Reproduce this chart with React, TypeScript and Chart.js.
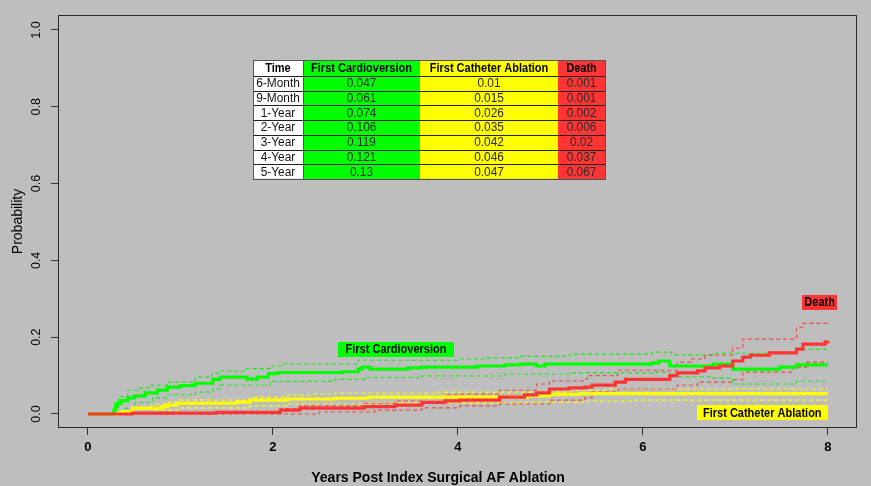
import React, { useEffect, useRef } from "react";
import { Chart, registerables } from "chart.js";

Chart.register(...registerables);

// ---------- data ----------
const xTicks = [0, 2, 4, 6, 8];
const yTicks = [0, 0.2, 0.4, 0.6, 0.8, 1.0];

// First Cardioversion (estimate, upper, lower)
const cardioEst: [number, number][] = [
  [0, 0], [0.26, 0], [0.28, 0.01], [0.3, 0.02], [0.32, 0.028], [0.36, 0.035], [0.43, 0.042],
  [0.5, 0.047], [0.62, 0.055], [0.75, 0.062], [0.86, 0.07], [1.0, 0.074], [1.16, 0.08],
  [1.35, 0.09], [1.43, 0.096], [1.72, 0.091], [1.83, 0.096], [1.95, 0.105], [2.05, 0.108],
  [2.75, 0.11], [2.92, 0.117], [2.96, 0.122], [3.05, 0.117], [3.46, 0.12], [3.61, 0.122],
  [4.21, 0.125], [4.51, 0.128], [4.67, 0.13], [4.85, 0.125], [4.94, 0.13], [6.1, 0.133],
  [6.17, 0.138], [6.29, 0.125], [6.76, 0.13], [6.97, 0.117], [7.48, 0.122], [7.66, 0.128], [8.0, 0.128],
];
const cardioUpper: [number, number][] = [
  [0, 0], [0.26, 0], [0.29, 0.03], [0.33, 0.045], [0.43, 0.062], [0.55, 0.068], [0.69, 0.075],
  [0.86, 0.083], [1.16, 0.096], [1.34, 0.107], [1.43, 0.112], [1.7, 0.118], [1.97, 0.125],
  [2.11, 0.13], [2.92, 0.14], [4.02, 0.143], [4.3, 0.146], [4.67, 0.15], [5.21, 0.156],
  [6.1, 0.161], [6.31, 0.154], [6.76, 0.158], [7.66, 0.169], [8.0, 0.17],
];
const cardioLower: [number, number][] = [
  [0, 0], [0.3, 0], [0.4, 0.015], [0.51, 0.03], [0.7, 0.042], [0.86, 0.05], [1.16, 0.057],
  [1.35, 0.065], [1.43, 0.075], [1.97, 0.085], [2.67, 0.09], [3.0, 0.095], [3.61, 0.099],
  [4.51, 0.104], [5.21, 0.107], [6.1, 0.109], [6.29, 0.097], [6.76, 0.094], [6.97, 0.078],
  [7.66, 0.086], [8.0, 0.086],
];

// First Catheter Ablation
const ablationEst: [number, number][] = [
  [0, 0], [0.27, 0], [0.32, 0.003], [0.37, 0.006], [0.48, 0.015], [0.8, 0.019], [0.86, 0.023],
  [0.96, 0.028], [1.61, 0.031], [1.75, 0.036], [2.15, 0.039], [2.67, 0.041], [3.03, 0.044],
  [4.75, 0.047], [4.99, 0.051], [5.32, 0.053], [8.0, 0.053],
];
const ablationUpper: [number, number][] = [
  [0, 0], [0.3, 0], [0.5, 0.012], [0.69, 0.025], [0.86, 0.031], [0.97, 0.036], [1.75, 0.044],
  [2.15, 0.049], [2.4, 0.052], [2.67, 0.054], [3.75, 0.057], [5.21, 0.062], [5.6, 0.065], [8.0, 0.065],
];
const ablationLower: [number, number][] = [
  [0, 0], [0.45, 0], [0.5, 0.004], [0.69, 0.01], [0.97, 0.016], [1.75, 0.021], [2.15, 0.026],
  [3.03, 0.029], [4.75, 0.031], [5.4, 0.034], [5.9, 0.036], [8.0, 0.036],
];

// Death
const deathEst: [number, number][] = [
  [0, 0], [0.48, 0.002], [1.39, 0.004], [2.08, 0.01], [2.29, 0.015], [2.99, 0.019], [3.32, 0.023],
  [3.61, 0.03], [3.86, 0.034], [4.02, 0.036], [4.45, 0.044], [4.72, 0.05], [4.85, 0.055],
  [4.99, 0.065], [5.2, 0.068], [5.37, 0.07], [5.45, 0.075], [5.7, 0.083], [5.81, 0.09],
  [6.29, 0.1], [6.37, 0.107], [6.59, 0.112], [6.67, 0.12], [6.83, 0.125], [6.97, 0.138],
  [7.08, 0.148], [7.16, 0.153], [7.37, 0.159], [7.66, 0.169], [7.73, 0.182], [7.97, 0.188], [8.0, 0.19],
];
const deathUpper: [number, number][] = [
  [0, 0], [0.5, 0.003], [1.4, 0.006], [2.08, 0.014], [2.29, 0.021], [2.99, 0.028], [3.32, 0.034],
  [3.61, 0.044], [3.86, 0.05], [4.02, 0.052], [4.45, 0.062], [4.85, 0.078], [4.99, 0.086],
  [5.37, 0.091], [5.4, 0.1], [5.73, 0.114], [6.37, 0.135], [6.52, 0.143], [6.67, 0.153],
  [6.97, 0.172], [7.08, 0.195], [7.66, 0.226], [7.73, 0.236], [8.0, 0.24],
];
const deathLower: [number, number][] = [
  [0, 0], [2.3, 0], [2.5, 0.005], [3.1, 0.01], [3.61, 0.016], [4.02, 0.021], [4.45, 0.026],
  [4.99, 0.036], [5.37, 0.042], [5.45, 0.057], [5.73, 0.065], [6.37, 0.075], [6.59, 0.083],
  [6.97, 0.089], [7.08, 0.109], [7.62, 0.122], [7.77, 0.135], [8.0, 0.135],
];

// Summary table
const tableHeaders = ["Time", "First Cardioversion", "First Catheter Ablation", "Death"];
const tableTimes = ["6-Month", "9-Month", "1-Year", "2-Year", "3-Year", "4-Year", "5-Year"];
const tableCardio = ["0.047", "0.061", "0.074", "0.106", "0.119", "0.121", "0.13"];
const tableAblation = ["0.01", "0.015", "0.026", "0.035", "0.042", "0.046", "0.047"];
const tableDeath = ["0.001", "0.001", "0.002", "0.006", "0.02", "0.037", "0.067"];

// Curve labels
const curveLabelTexts = ["First Cardioversion", "Death", "First Catheter Ablation"];
const curveLabelAnchors: [number, number][] = [[3.33, 0.168], [7.91, 0.291], [7.29, 0.003]];

// Axis titles
const xTitle = "Years Post Index Surgical AF Ablation";
const yTitle = "Probability";

// ---------- styles ----------
const GREEN = "#00ff00";
const YELLOW = "#ffff00";
const RED = "#ff3535";
const BG = "#bebebe";
const SANS = "'Liberation Sans', Arial, sans-serif";
const LABEL_BOX_W = [116, 35, 131];
const LABEL_BOX_H = 15;
const NARROW_X = 0.88;
const X_TITLE_SHIFT_PAD = "          "; // shifts the centred x title left, as in the original

const toXY = (arr: [number, number][]) => arr.map(([x, y]) => ({ x, y }));

const mainLine = (label: string, data: [number, number][], color: string) => ({
  label,
  data: toXY(data),
  borderColor: color,
  backgroundColor: color,
  borderWidth: 3.2,
  stepped: true as const,
  pointRadius: 0,
  fill: false,
  tension: 0,
});
const ciLine = (label: string, data: [number, number][], color: string) => ({
  label,
  data: toXY(data),
  borderColor: color,
  backgroundColor: color,
  borderWidth: 1.1,
  borderDash: [4, 3],
  stepped: true as const,
  pointRadius: 0,
  fill: false,
  tension: 0,
});

function narrowText(ctx: CanvasRenderingContext2D, txt: string, x: number, y: number, sx: number) {
  ctx.save();
  ctx.translate(x, y);
  ctx.scale(sx, 1);
  ctx.fillText(txt, 0, 0);
  ctx.restore();
}

const decorPlugin = {
  id: "decor",
  beforeDraw(chart: any) {
    const { ctx, width, height } = chart;
    ctx.save();
    ctx.fillStyle = BG;
    ctx.fillRect(0, 0, width, height);
    ctx.restore();
  },
  afterDraw(chart: any) {
    const { ctx, chartArea: a, scales } = chart;
    ctx.save();
    // plot box
    ctx.strokeStyle = "#2a2a2a";
    ctx.lineWidth = 1;
    ctx.strokeRect(a.left + 0.5, a.top + 0.5, a.right - a.left - 1, a.bottom - a.top - 1);

    // curve labels
    const labelColors = [GREEN, RED, YELLOW];
    ctx.font = `bold 12.5px ${SANS}`;
    ctx.textBaseline = "middle";
    ctx.textAlign = "center";
    curveLabelTexts.forEach((txt, i) => {
      const cx = scales.x.getPixelForValue(curveLabelAnchors[i][0]);
      const cy = scales.y.getPixelForValue(curveLabelAnchors[i][1]);
      const w = LABEL_BOX_W[i];
      const h = LABEL_BOX_H;
      ctx.fillStyle = labelColors[i];
      ctx.fillRect(Math.round(cx - w / 2), Math.round(cy - h / 2), w, h);
      ctx.fillStyle = "#000";
      narrowText(ctx, txt, cx, cy + 0.5, NARROW_X);
    });

    // table
    const tLeft = a.left + 195;
    const tTop = a.top + 45;
    const colW = [50, 117, 138, 47];
    const headH = 16;
    const rowH = 14.7;
    const colBg = ["#ffffff", GREEN, YELLOW, RED];
    const nRows = tableTimes.length;
    const totalW = colW.reduce((s, v) => s + v, 0);
    const totalH = headH + rowH * nRows;
    let cx = tLeft;
    colW.forEach((w, c) => {
      ctx.fillStyle = colBg[c];
      ctx.fillRect(cx, tTop, w, totalH);
      cx += w;
    });
    // header
    ctx.fillStyle = "#000";
    ctx.font = `bold 12.5px ${SANS}`;
    cx = tLeft;
    tableHeaders.forEach((h, c) => {
      narrowText(ctx, h, cx + colW[c] / 2, tTop + headH / 2 + 0.5, NARROW_X);
      cx += colW[c];
    });
    // body
    ctx.font = `12.5px ${SANS}`;
    const cols = [tableTimes, tableCardio, tableAblation, tableDeath];
    for (let r = 0; r < nRows; r++) {
      const y = tTop + headH + rowH * r + rowH / 2 + 0.5;
      cx = tLeft;
      cols.forEach((col, c) => {
        ctx.fillStyle = c === 0 ? "#111" : "#2a2a2a";
        narrowText(ctx, col[r], cx + colW[c] / 2, y, 0.95);
        cx += colW[c];
      });
    }
    // grid lines
    ctx.strokeStyle = "#222";
    ctx.lineWidth = 1;
    ctx.beginPath();
    for (let r = 0; r <= nRows; r++) {
      const y = Math.round(tTop + headH + rowH * r) + 0.5;
      ctx.moveTo(tLeft, y);
      ctx.lineTo(tLeft + totalW, y);
    }
    ctx.stroke();
    ctx.strokeStyle = "#555";
    ctx.strokeRect(tLeft + 0.5, tTop + 0.5, totalW, totalH);
    ctx.beginPath();
    ctx.moveTo(tLeft + colW[0] + 0.5, tTop);
    ctx.lineTo(tLeft + colW[0] + 0.5, tTop + totalH);
    ctx.stroke();
    ctx.restore();
  },
};

export default function App() {
  const ref = useRef<HTMLCanvasElement>(null);

  useEffect(() => {
    const canvas = ref.current;
    if (!canvas) return;
    const chart = new Chart(canvas, {
      type: "line",
      data: {
        datasets: [
          mainLine("Death", deathEst, RED),
          mainLine("First Cardioversion", cardioEst, GREEN),
          mainLine("First Catheter Ablation", ablationEst, YELLOW),
          ciLine("Death upper", deathUpper, "#f04848"),
          ciLine("Death lower", deathLower, "#f04848"),
          ciLine("Cardioversion upper", cardioUpper, "#11ee11"),
          ciLine("Cardioversion lower", cardioLower, "#11ee11"),
          ciLine("Ablation upper", ablationUpper, YELLOW),
          ciLine("Ablation lower", ablationLower, YELLOW),
        ] as any,
      },
      options: {
        animation: false,
        responsive: false,
        maintainAspectRatio: false,
        layout: { padding: { top: 15, right: 14, left: 0, bottom: 0 } },
        plugins: {
          legend: { display: false },
          tooltip: { enabled: false },
        },
        scales: {
          x: {
            type: "linear",
            min: -0.324,
            max: 8.314,
            afterBuildTicks: (s: any) => {
              s.ticks = xTicks.map((value) => ({ value }));
            },
            afterFit: (s: any) => {
              s.height = 58;
            },
            grid: { drawOnChartArea: false, drawTicks: true, tickLength: 7, tickColor: "#333", tickWidth: 1 },
            border: { display: false },
            ticks: {
              color: "#000",
              autoSkip: false,
              maxRotation: 0,
              padding: 5,
              font: { family: SANS, size: 13, weight: "bold" },
              callback: (v: any) => String(v),
            },
            title: {
              display: true,
              text: xTitle + X_TITLE_SHIFT_PAD,
              color: "#000",
              font: { family: SANS, size: 14, weight: "bold", lineHeight: 1 },
              padding: { top: 0, bottom: 1 },
            },
          },
          y: {
            type: "linear",
            min: -0.0365,
            max: 1.039,
            afterBuildTicks: (s: any) => {
              s.ticks = yTicks.map((value) => ({ value }));
            },
            afterFit: (s: any) => {
              s.width = 58;
            },
            grid: { drawOnChartArea: false, drawTicks: true, tickLength: 7, tickColor: "#333", tickWidth: 1 },
            border: { display: false },
            ticks: {
              color: "#000",
              autoSkip: false,
              minRotation: 90,
              maxRotation: 90,
              crossAlign: "center",
              padding: 6,
              font: { family: SANS, size: 12.5 },
              callback: (v: any) => Number(v).toFixed(1),
            },
            title: {
              display: true,
              text: yTitle,
              color: "#000",
              font: { family: SANS, size: 14, lineHeight: 1.2 },
              padding: { top: 10, bottom: 0 },
            },
          },
        },
      } as any,
      plugins: [decorPlugin],
    });
    return () => chart.destroy();
  }, []);

  return (
    <div style={{ position: "fixed", left: 0, top: 0, width: 871, height: 486, background: BG }}>
      <canvas ref={ref} width={871} height={486} style={{ display: "block", width: 871, height: 486 }} />
    </div>
  );
}
